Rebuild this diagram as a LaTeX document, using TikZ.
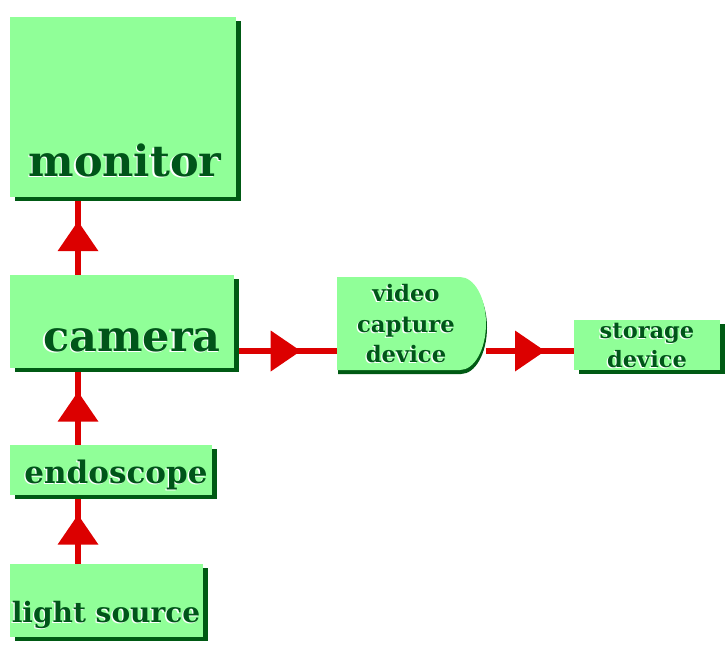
\documentclass[tikz,border=0pt]{standalone}
\usepackage{fontspec}
\setmainfont{DejaVu Serif}
\usetikzlibrary{shadows,decorations.markings,backgrounds}
\definecolor{boxg}{RGB}{144,255,152}
\definecolor{shg}{RGB}{0,90,20}
\definecolor{txg}{RGB}{0,85,25}
\definecolor{arr}{RGB}{220,0,0}
\newcommand\shtxt[1]{\leavevmode\rlap{\kern-1.3pt\raisebox{-1.3pt}{\textcolor{white}{#1}}}\textcolor{txg}{#1}}
\tikzset{
  box/.style={draw=none, fill=boxg, anchor=north west, inner sep=0pt,
    general shadow={fill=shg, shadow xshift=4.5pt, shadow yshift=-4pt}},
  lbl/.style={anchor=base, inner sep=0pt, font=\bfseries},
  conn/.style={draw=arr, line width=6.5pt, postaction=decorate,
    decoration={markings, mark=at position 0.5 with {\fill[arr] (15pt,0pt) -- (-15pt,20.5pt) -- (-15pt,-20.5pt) -- cycle;}}},
}
\begin{document}
\begin{tikzpicture}[x=1pt,y=-1pt]
\useasboundingbox (0,0) rectangle (726,646);
\coordinate (hy) at (0,351);
\coordinate (vx) at (78,0);
\node[box, minimum width=226pt, minimum height=180pt] (mon) at (10,17) {};
\node[box, minimum width=224pt, minimum height=93pt] (cam) at (10,275) {};
\node[box, minimum width=202pt, minimum height=50pt] (endo) at (10,445) {};
\node[box, minimum width=193pt, minimum height=73pt] (light) at (10,564) {};
\node[box, minimum width=146pt, minimum height=50pt] (stor) at (574,320) {};
% video capture device (D shape)
\fill[shg] (338,281) -- (461,281) arc[start angle=90, end angle=-90, x radius=26pt, y radius=46.5pt] -- (338,374) -- cycle;
\fill[boxg] (337,277) -- (460,277) arc[start angle=90, end angle=-90, x radius=26pt, y radius=46.5pt] -- (337,370) -- cycle;
\node[inner sep=0pt, minimum width=149pt, minimum height=93pt, anchor=north west] (vid) at (337,277) {};
\coordinate (vidr) at (486,351);
% connectors
\begin{scope}[on background layer]
\path[conn] (light.north -| vx) -- (endo.south -| vx);
\path[conn] (endo.north -| vx) -- (cam.south -| vx);
\path[conn] (cam.north -| vx) -- (mon.south -| vx);
\path[conn] (cam.east |- hy) -- (vid.west |- hy);
\path[conn] (vidr) -- (stor.west |- hy);
\end{scope}
% labels
\node[lbl, font=\bfseries\fontsize{43}{50}\selectfont] (tmon) at (125,176) {\shtxt{monitor}};
\node[lbl, font=\bfseries\fontsize{43}{50}\selectfont] (tcam) at (132,351) {\shtxt{camera}};
\node[lbl, font=\bfseries\fontsize{31}{40}\selectfont] (tendo) at (116,483) {\shtxt{endoscope}};
\node[lbl, font=\bfseries\fontsize{28}{36}\selectfont] (tlight) at (106,622) {\shtxt{light source}};
\node[lbl, font=\bfseries\fontsize{22.7}{30}\selectfont] (tv1) at (406,301) {\shtxt{video}};
\node[lbl, font=\bfseries\fontsize{22.7}{30}\selectfont] (tv2) at (406,332) {\shtxt{capture}};
\node[lbl, font=\bfseries\fontsize{22.7}{30}\selectfont] (tv3) at (406,362) {\shtxt{device}};
\node[lbl, font=\bfseries\fontsize{22.5}{30}\selectfont] (ts1) at (647,338) {\shtxt{storage}};
\node[lbl, font=\bfseries\fontsize{22.5}{30}\selectfont] (ts2) at (647,367) {\shtxt{device}};
\end{tikzpicture}
\end{document}
